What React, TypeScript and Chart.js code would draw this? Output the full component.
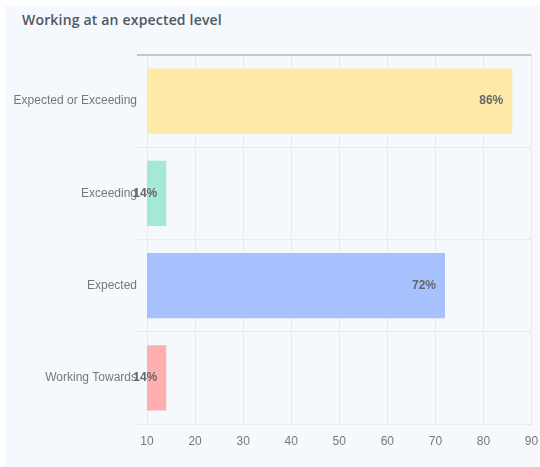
import React, { useEffect, useRef } from "react";
import { Chart, registerables } from "chart.js";

Chart.register(...registerables);

const title = "Working at an expected level";
const categories = ["Expected or Exceeding", "Exceeding", "Expected", "Working Towards"];
const values = [86, 14, 72, 14];
const barColors = ["#ffe9a9", "#a3e9d3", "#a7c1fe", "#feb0b0"];
const xMin = 10;
const xMax = 90;
const xStep = 10;

const extrasPlugin = {
  id: "extras",
  afterDraw(chart: any) {
    const { ctx, chartArea } = chart;
    ctx.save();
    ctx.strokeStyle = "#b5b9bf";
    ctx.lineWidth = 1.5;
    ctx.beginPath();
    ctx.moveTo(chartArea.left - 10, chartArea.top);
    ctx.lineTo(chartArea.right, chartArea.top);
    ctx.stroke();
    const meta = chart.getDatasetMeta(0);
    ctx.font = "bold 12px 'Liberation Sans', Arial, sans-serif";
    ctx.fillStyle = "#666";
    ctx.textAlign = "right";
    ctx.textBaseline = "middle";
    meta.data.forEach((bar: any, i: number) => {
      ctx.fillText(values[i] + "%", bar.x - 9, bar.y);
    });
    ctx.restore();
  },
};

export default function App() {
  const ref = useRef<HTMLCanvasElement>(null);
  useEffect(() => {
    if (!ref.current) return;
    const chart = new Chart(ref.current, {
      type: "bar",
      data: {
        labels: categories,
        datasets: [
          {
            data: values,
            backgroundColor: barColors,
            borderWidth: 0,
            barPercentage: 0.884,
            categoryPercentage: 0.8,
          },
        ],
      },
      options: {
        indexAxis: "y",
        animation: false,
        responsive: false,
        layout: { padding: { top: 55, right: 8.5, left: 0, bottom: 0 } },
        plugins: { legend: { display: false }, tooltip: { enabled: false } },
        scales: {
          x: {
            min: xMin,
            max: xMax,
            ticks: {
              stepSize: xStep,
              color: "#777",
              padding: 10,
              font: { family: "'Liberation Sans', Arial, sans-serif", size: 12 },
            },
            grid: { color: "#e7ebf1", drawTicks: false },
            border: { color: "#e7ebf1" },
            afterFit: (s: any) => {
              s.height = 43;
              s.paddingRight = 0;
              s.paddingLeft = 0;
            },
          },
          y: {
            ticks: {
              color: "#777",
              padding: 0,
              font: { family: "'Liberation Sans', Arial, sans-serif", size: 12 },
            },
            grid: { color: "#e7ebf1", tickLength: 10 },
            border: { color: "#e7ebf1" },
            afterFit: (s: any) => {
              s.width = 147;
              s.paddingTop = 0;
              s.paddingBottom = 0;
            },
          },
        },
      },
      plugins: [extrasPlugin],
    });
    return () => chart.destroy();
  }, []);

  return (
    <div style={{ position: "fixed", left: 0, top: 0, width: 540, height: 467, background: "#fff" }}>
      <div style={{ position: "absolute", left: 5, top: 6, width: 535, height: 461, background: "#f5f8fc" }} />
      <div
        style={{
          position: "absolute",
          left: 22,
          top: 10,
          fontFamily: "'Open Sans', sans-serif",
          fontWeight: 600,
          fontSize: 14,
          letterSpacing: 0.18,
          color: "#4f5762",
          whiteSpace: "nowrap",
        }}
      >
        {title}
      </div>
      <canvas ref={ref} width={540} height={467} style={{ position: "absolute", left: 0, top: 0 }} />
    </div>
  );
}
